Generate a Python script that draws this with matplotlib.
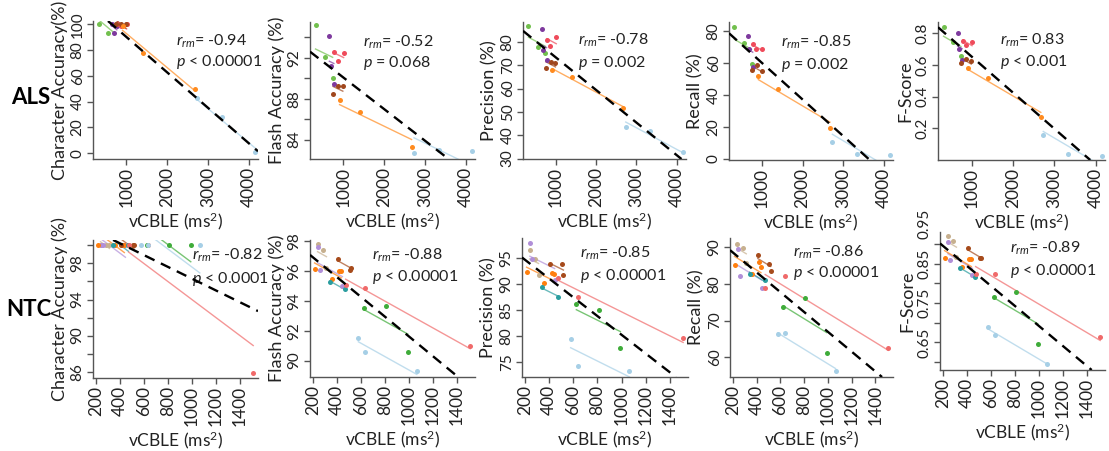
import matplotlib
matplotlib.use("Agg")
import matplotlib.pyplot as plt
import numpy as np

plt.rcParams['font.family'] = ['Lato', 'DejaVu Sans']
plt.rcParams['mathtext.fontset'] = 'custom'
plt.rcParams['mathtext.rm'] = 'Lato'
plt.rcParams['mathtext.it'] = 'Lato:italic'

# ---------------- ALS group (6 subjects, 3 sessions each) ----------------
als_colors = ['#72c04e', '#7e3a9e', '#ef4b5b', '#a0471d', '#ff8b1f', '#a6cfe6']
als_vcble = [[320, 560, 740], [660, 690, 770], [780, 860, 1010],
             [750, 870, 990], [910, 1400, 2675], [2735, 3340, 4160]]
als_char = [[100, 93, 100], [100, 93, 99], [100, 99, 100],
            [100, 100, 100], [99, 77.5, 49.6], [42.6, 28, 0.5]]
als_flash = [[95.2, 92.1, 90.0], [94.1, 91.2, 89.4], [92.6, 91.7, 92.5],
             [88.5, 89.2, 89.2], [87.9, 86.7, 83.3], [82.7, 83.0, 82.9]]
als_precision = [[86.8, 77.8, 75.2], [85.4, 76.5, 72.4], [80.6, 78.3, 82.2],
                 [68.9, 71.2, 71.0], [68.1, 65.0, 51.6], [43.4, 41.7, 33.0]]
als_recall = [[82.3, 72.7, 59.4], [76.9, 68.5, 57.7], [71.9, 68.5, 68.5],
              [55.6, 58.75, 55.0], [51.9, 43.75, 19.2], [10.4, 2.9, 2.5]]
als_fscore = [[0.84, 0.745, 0.654], [0.80, 0.70, 0.633], [0.751, 0.724, 0.745],
              [0.612, 0.635, 0.623], [0.58, 0.517, 0.27], [0.16, 0.04, 0.028]]
# overall dashed fit (intercept, slope)
als_fit = [(117.7, -0.02749), (93.17, -0.00309), (87.28, -0.01396),
           (82.8, -0.0228), (0.879, -0.000227)]
als_r = ['-0.94', '-0.52', '-0.78', '-0.85', '0.83']
als_p = ['< 0.00001', '= 0.068', '= 0.002', '= 0.002', '< 0.001']

# ---------------- NTC group ----------------
ntc_colors = ['#c7b08f', '#b18fd8', '#ff7f0e', '#2a9d9f', '#a64b1c',
              '#f06a6a', '#3fac3a', '#a6cfe6']
ntc_vcble = [[238, 285, 312], [240, 256, 445], [213, 358, 420, 436], [340, 470],
             [410, 508, 518], [472, 635, 1510], [625, 810, 990], [578, 635, 1065]]
ntc_char = [[100, 100, 100], [100, 100, 100], [100, 100, 100, 100], [100, 100],
            [100, 100, 100], [100, 100, 85.8], [100, 100, 100], [100, 100, 100]]
ntc_flash = [[97.8, 97.4, 96.2], [97.6, 96.1, 95.0], [96.15, 95.5, 96.0, 96.0], [95.3, 94.8],
             [96.85, 96.1, 96.2], [95.1, 94.9, 91.0], [93.55, 93.7, 90.55], [91.5, 90.55, 89.3]]
ntc_precision = [[96.4, 94.8, 91.7], [97.8, 94.75, 90.8], [92.2, 90.1, 92.05, 91.8], [89.4, 87.45],
                 [93.8, 93.8, 91.7], [91.2, 87.45, 79.6], [86.15, 85.0, 77.6], [79.4, 74.2, 73.3]]
ntc_recall = [[91.0, 89.8, 85.8], [89.6, 82.2, 79.0], [85.1, 82.8, 86.0, 84.6], [82.8, 81.0],
              [87.8, 85.3, 83.5], [79.0, 82.1, 62.6], [73.6, 76.2, 61.2], [66.3, 66.5, 56.2]]
ntc_fscore = [[0.92, 0.907, 0.866], [0.905, 0.859, 0.821], [0.865, 0.84, 0.861, 0.861], [0.838, 0.817],
              [0.889, 0.863, 0.863], [0.823, 0.823, 0.664], [0.766, 0.777, 0.647], [0.69, 0.669, 0.594]]
ntc_fit = [(102.84, -0.00653), (98.26, -0.00664), (98.21, -0.01801),
           (93.92, -0.02698), (0.9455, -0.000254)]
ntc_r = ['-0.82', '-0.88', '-0.85', '-0.86', '-0.89']
ntc_p = ['< 0.0001', '< 0.00001', '< 0.00001', '< 0.00001', '< 0.00001']

ylabels_als = ['Character Accuracy(%)', 'Flash Accuracy (%)', 'Precision (%)', 'Recall (%)', 'F-Score']
ylabels_ntc = ['Character Accuracy (%)', 'Flash Accuracy (%)', 'Precision (%)', 'Recall (%)', 'F-Score']

W, H = 1109, 451
fig = plt.figure(figsize=(W / 100, H / 100), dpi=100)


def rect(l, r, t, b):
    return [l / W, 1 - b / H, (r - l) / W, (b - t) / H]


als_boxes = [(93, 258, 21, 159), (310, 475, 22, 159), (523, 686, 22, 159),
             (729, 893, 22, 160), (938, 1105, 22, 160)]
ntc_boxes = [(93, 258, 240, 378), (310, 475, 240, 377), (522, 688, 238, 377),
             (730, 893, 238, 377), (940, 1105, 232, 370)]

als_ylim = [(-4.6, 102.5), (82.1, 95.5), (29.8, 88.5), (-0.6, 85.6), (0, 0.87)]
ntc_ylim = [(85.3, 100.6), (88.9, 98.1), (72.1, 98.8), (54.6, 92.5), (0.58, 0.93)]

als_yticks = [(np.arange(0, 101, 20), None),
              (np.arange(84, 95, 2), ['84', '', '88', '', '92', '']),
              (np.arange(30, 81, 10), None),
              (np.arange(0, 81, 20), None),
              ([0.2, 0.4, 0.6, 0.8], ['0.2', '0.4', '0.6', '0.8'])]
ntc_yticks = [(np.arange(86, 101, 2), ['86', '', '90', '', '94', '', '98', '']),
              (np.arange(90, 99, 2), None),
              (np.arange(75, 96, 5), None),
              (np.arange(60, 91, 10), None),
              ([0.6, 0.65, 0.7, 0.75, 0.8, 0.85, 0.9], ['', '0.65', '', '0.75', '', '0.85', ''])]

als_txt = [(0.50, 0.85, 0.70), (0.32, 0.85, 0.70), (0.34, 0.87, 0.70),
           (0.32, 0.85, 0.69), (0.37, 0.87, 0.71)]
ntc_txt = [(0.60, 0.89, 0.72), (0.374, 0.89, 0.73), (0.35, 0.89, 0.73),
           (0.387, 0.90, 0.75), (0.424, 0.88, 0.72)]

axis_col = '#555555'
text_col = '#222222'


def draw_panel(box, xs, ys, colors, fit, xlim, xticks, ylim, yt, ylab, rtxt, ptxt, tpos):
    ax = fig.add_axes(rect(*box))
    # repeated-measures correlation: common slope, one line per subject
    num = den = 0.0
    for x, y in zip(xs, ys):
        x = np.asarray(x, float)
        y = np.asarray(y, float)
        dx = x - x.mean()
        num += (dx * (y - y.mean())).sum()
        den += (dx ** 2).sum()
    b = num / den
    for x, y, c in zip(xs, ys, colors):
        x = np.asarray(x, float)
        y = np.asarray(y, float)
        xx = np.array([x.min(), x.max()])
        ax.plot(xx, y.mean() + b * (xx - x.mean()), color=c, lw=1.0, alpha=0.7, zorder=2)
    for x, y, c in zip(xs, ys, colors):
        ax.scatter(x, y, s=13, color=c, linewidths=0, zorder=3, clip_on=False)
    ax.axline((0, fit[0]), slope=fit[1], color='black', lw=1.7, ls=(0, (4.5, 3)), zorder=4)

    ax.set_xlim(*xlim)
    ax.set_ylim(*ylim)
    ax.set_xticks(xticks)
    ax.set_xticklabels([str(t) for t in xticks], rotation=90, fontsize=12.5, color=text_col)
    ticks, labels = yt
    if labels is None:
        labels = [str(int(t)) for t in ticks]
    ax.set_yticks(ticks)
    ax.set_yticklabels(labels, rotation=90, va='center', fontsize=11, color=text_col)
    for s in ['top', 'right']:
        ax.spines[s].set_visible(False)
    for s in ['left', 'bottom']:
        ax.spines[s].set_color(axis_col)
        ax.spines[s].set_linewidth(1.0)
    ax.tick_params(colors=axis_col, length=4, width=1.0, pad=2)
    ax.tick_params(labelcolor=text_col)
    ax.set_ylabel(ylab, fontsize=13, color=text_col, labelpad=2)
    ax.set_xlabel('vCBLE (ms$^{2}$)', fontsize=12.5, color=text_col, labelpad=2)
    ax.text(tpos[0], tpos[1], r'$r_{rm}$= ' + rtxt, transform=ax.transAxes,
            fontsize=11.5, color=text_col, ha='left', va='center')
    ax.text(tpos[0], tpos[2], r'$p$ ' + ptxt, transform=ax.transAxes,
            fontsize=11.5, color=text_col, ha='left', va='center')
    return ax


als_metrics = [als_char, als_flash, als_precision, als_recall, als_fscore]
ntc_metrics = [ntc_char, ntc_flash, ntc_precision, ntc_recall, ntc_fscore]

for i in range(5):
    draw_panel(als_boxes[i], als_vcble, als_metrics[i], als_colors, als_fit[i],
               (185, 4230), [1000, 2000, 3000, 4000], als_ylim[i], als_yticks[i],
               ylabels_als[i], als_r[i], als_p[i], als_txt[i])
    ax = draw_panel(ntc_boxes[i], ntc_vcble, ntc_metrics[i], ntc_colors, ntc_fit[i],
                    (175, 1550), list(range(200, 1401, 200)), ntc_ylim[i], ntc_yticks[i],
                    ylabels_ntc[i], ntc_r[i], ntc_p[i], ntc_txt[i])
    if i == 4:
        ax.annotate('0.95', xy=(0, 0.95), xycoords=('axes fraction', 'data'),
                    xytext=(-6, 0), textcoords='offset points', rotation=90,
                    ha='right', va='center', fontsize=11, color=text_col,
                    annotation_clip=False)

fig.text(31 / W, 1 - 97 / H, 'ALS', fontsize=16, fontweight='bold', ha='center', va='center')
fig.text(29 / W, 1 - 310 / H, 'NTC', fontsize=16, fontweight='bold', ha='center', va='center')

fig.savefig('out.png', dpi=100)
